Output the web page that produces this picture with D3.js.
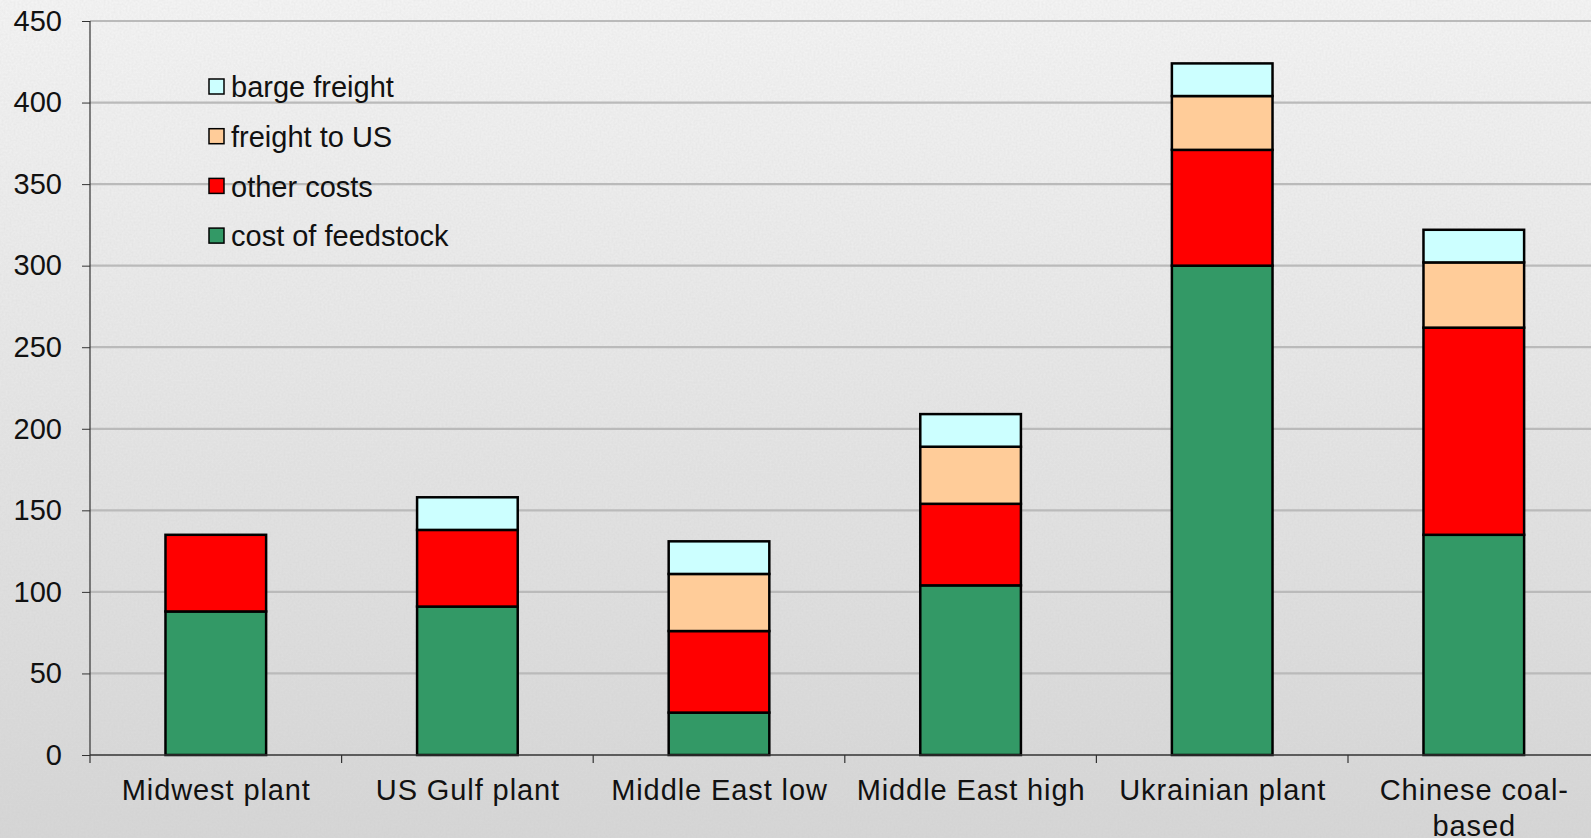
<!DOCTYPE html>
<html>
<head>
<meta charset="utf-8">
<script src="https://cdn.jsdelivr.net/npm/d3@7/dist/d3.min.js"></script>
<style>
  html, body { margin: 0; padding: 0; overflow: hidden; background: #e8e8e8; }
  svg { display: block; }
  text { font-family: "Liberation Sans", Arial, sans-serif; fill: #111; }
</style>
</head>
<body>
<svg id="chart" width="1591" height="838"></svg>
<script>
// Plant locations along the x axis
const categories = ["Midwest plant", "US Gulf plant", "Middle East low", "Middle East high", "Ukrainian plant", "Chinese coal-based"];

// Cost components ($/t), stacked bottom to top
const costOfFeedstock = [88, 91, 26, 104, 300, 135];
const otherCosts      = [47, 47, 50, 50, 71, 127];
const freightToUS     = [0, 0, 35, 35, 33, 40];
const bargeFreight    = [0, 20, 20, 20, 20, 20];

const seriesNames = ["cost of feedstock", "other costs", "freight to US", "barge freight"];
const seriesColors = ["#339966", "#ff0000", "#ffcc99", "#ccffff"];
const yTicks = [0, 50, 100, 150, 200, 250, 300, 350, 400, 450];

const W = 1591, H = 838;
const plotLeft = 90, plotTop = 21, plotBottom = 755;
const plotRight = plotLeft + 6 * 251.6;

const svg = d3.select("#chart");

// Background: light grey paper with a soft vertical gradient and fine grain
const defs = svg.append("defs");
const grad = defs.append("linearGradient").attr("id", "bg").attr("x1", 0).attr("y1", 0).attr("x2", 0).attr("y2", 1);
grad.append("stop").attr("offset", "0%").attr("stop-color", "#f4f4f4");
grad.append("stop").attr("offset", "100%").attr("stop-color", "#d6d6d6");
const grain = defs.append("filter").attr("id", "grain").attr("x", 0).attr("y", 0).attr("width", "100%").attr("height", "100%");
grain.append("feTurbulence").attr("type", "fractalNoise").attr("baseFrequency", 0.5).attr("numOctaves", 3).attr("seed", 4).attr("result", "n");
grain.append("feColorMatrix").attr("in", "n").attr("type", "matrix")
  .attr("values", "0 0 0 0 0.55  0 0 0 0 0.55  0 0 0 0 0.55  0 0 0 0.28 -0.06");
svg.append("rect").attr("width", W).attr("height", H).attr("fill", "url(#bg)");
svg.append("rect").attr("width", W).attr("height", H).attr("filter", "url(#grain)");

const x = d3.scaleBand().domain(categories).range([plotLeft, plotRight]).paddingInner(0).paddingOuter(0);
const y = d3.scaleLinear().domain([0, 450]).range([plotBottom, plotTop]);

// Horizontal gridlines
svg.append("g").selectAll("line").data(yTicks.filter(d => d > 0)).join("line")
  .attr("x1", plotLeft).attr("x2", plotRight)
  .attr("y1", d => y(d)).attr("y2", d => y(d))
  .attr("stroke", "#bababa").attr("stroke-width", 2.2);

// Stacked bars
const rows = categories.map((c, i) => ({
  cat: c,
  "cost of feedstock": costOfFeedstock[i],
  "other costs": otherCosts[i],
  "freight to US": freightToUS[i],
  "barge freight": bargeFreight[i]
}));
const stacked = d3.stack().keys(seriesNames)(rows);
const barW = x.bandwidth() * 0.4;
const barOff = x.bandwidth() * 0.3;

svg.append("g").selectAll("g").data(stacked).join("g")
  .attr("fill", (d, i) => seriesColors[i])
  .selectAll("rect").data(d => d.filter(s => s[1] - s[0] > 0)).join("rect")
  .attr("x", d => x(d.data.cat) + barOff)
  .attr("width", barW)
  .attr("y", d => y(d[1]))
  .attr("height", d => y(d[0]) - y(d[1]))
  .attr("stroke", "#000").attr("stroke-width", 2.5);

// Y axis
const yAxis = d3.axisLeft(y).tickValues(yTicks).tickSize(8).tickPadding(20);
const gy = svg.append("g").attr("transform", `translate(${plotLeft},0)`).call(yAxis);
gy.select(".domain").remove();
gy.selectAll(".tick line").attr("stroke", "#333");
gy.selectAll(".tick text").style("font-size", "29px").attr("fill", "#111");
svg.append("line").attr("x1", plotLeft).attr("x2", plotLeft).attr("y1", plotTop).attr("y2", plotBottom + 8)
  .attr("stroke", "#333").attr("stroke-width", 1.2);

// X axis baseline with tick marks between categories
svg.append("line").attr("x1", plotLeft).attr("x2", plotRight).attr("y1", plotBottom).attr("y2", plotBottom)
  .attr("stroke", "#333").attr("stroke-width", 1.5);
svg.append("g").selectAll("line").data(categories.slice(1)).join("line")
  .attr("x1", d => x(d)).attr("x2", d => x(d))
  .attr("y1", plotBottom).attr("y2", plotBottom + 8)
  .attr("stroke", "#333").attr("stroke-width", 1.2);

// Category labels, wrapped to the band width
const labelStyle = sel => sel.style("font-size", "29px").style("letter-spacing", "0.9px");
const measure = svg.append("text").call(labelStyle).attr("visibility", "hidden");
function wrap(label, maxW) {
  const tokens = label.match(/[^\s-]+-?|\s+/g).filter(t => t.trim().length);
  const lines = [];
  let cur = "";
  tokens.forEach(t => {
    const sep = cur === "" || cur.endsWith("-") ? "" : " ";
    const trial = cur + sep + t;
    measure.text(trial);
    if (cur && measure.node().getComputedTextLength() > maxW) {
      lines.push(cur);
      cur = t;
    } else cur = trial;
  });
  if (cur) lines.push(cur);
  return lines;
}
const xl = svg.append("g");
categories.forEach(c => {
  const lines = wrap(c, x.bandwidth() - 16);
  const cx = x(c) + x.bandwidth() / 2 + 0.5;
  const t = xl.append("text")
    .attr("x", cx)
    .attr("y", 800)
    .attr("text-anchor", "middle")
    .call(labelStyle);
  lines.forEach((ln, i) => t.append("tspan").attr("x", cx).attr("dy", i ? 36 : 0).text(ln));
});
measure.remove();

// Legend, top series first
const legendOrder = seriesNames.map((n, i) => ({ name: n, color: seriesColors[i] })).reverse();
const lg = svg.append("g").attr("transform", "translate(209,79)");
const item = lg.selectAll("g").data(legendOrder).join("g")
  .attr("transform", (d, i) => `translate(0,${i * 49.7})`);
item.append("rect").attr("width", 15).attr("height", 15)
  .attr("fill", d => d.color).attr("stroke", "#000").attr("stroke-width", 1.5);
item.append("text").attr("x", 22).attr("y", 8).attr("dy", "0.35em")
  .style("font-size", "29px").text(d => d.name);
</script>
</body>
</html>
